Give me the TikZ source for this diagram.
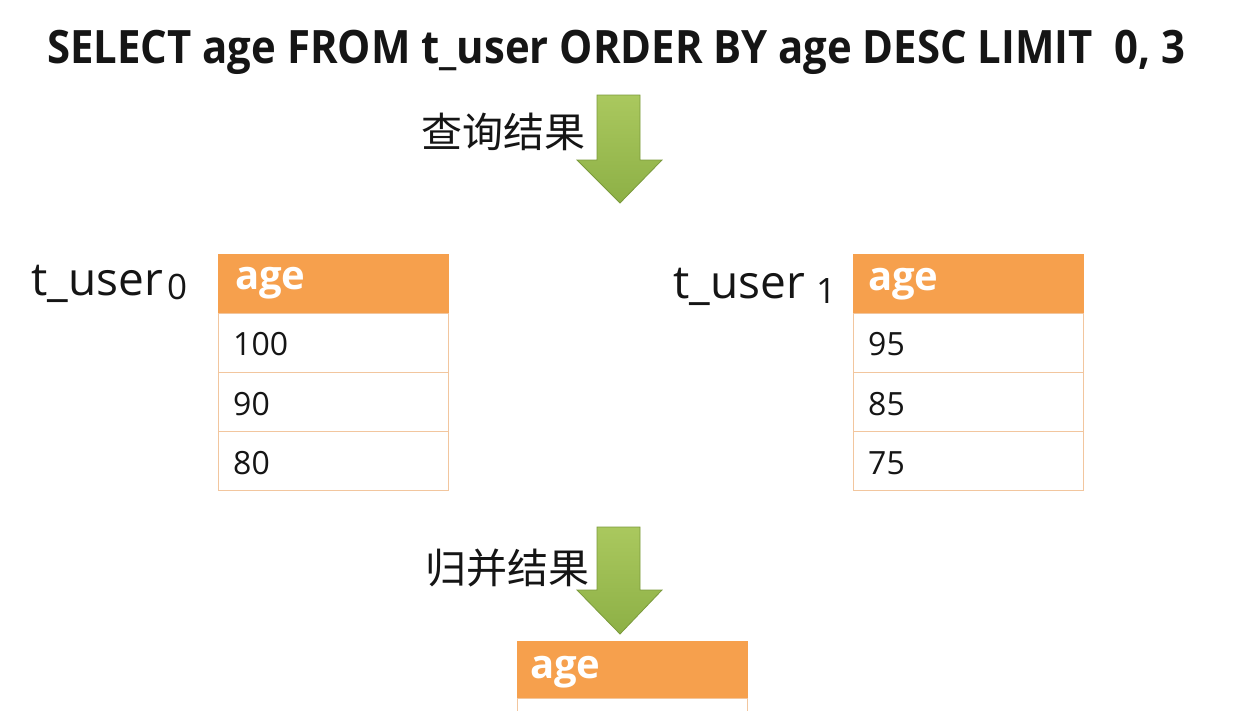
\documentclass[tikz,border=0pt]{standalone}
\usepackage{fontspec}
\setmainfont{Open Sans}
\newfontfamily\titlefont[FakeStretch=0.91]{Open Sans}
\newfontfamily\cjk{Noto Sans CJK SC}
\definecolor{hdrorange}{HTML}{F6A04D}
\definecolor{cellline}{HTML}{F2C69E}
\definecolor{grntop}{HTML}{AAC85E}
\definecolor{grnbot}{HTML}{8DB046}
\definecolor{grnline}{HTML}{7B9A3C}
\definecolor{txtblack}{HTML}{151515}
\begin{document}
\begin{tikzpicture}[x=1pt,y=-1pt,
  hdr/.style={rectangle, fill=hdrorange, draw=hdrorange, minimum width=230pt, minimum height=59pt, inner sep=0pt, anchor=north west},
  cell/.style={rectangle, fill=white, draw=cellline, line width=1.2pt, minimum width=230pt, minimum height=59pt, inner sep=0pt, anchor=north west},
  hdrtxt/.style={anchor=base west, inner sep=0pt, text=white, font=\fontsize{40}{44}\selectfont\bfseries},
  celltxt/.style={anchor=base west, inner sep=0pt, text=txtblack, font=\fontsize{32}{36}\selectfont},
  tbllabel/.style={anchor=base west, inner sep=0pt, text=txtblack, font=\fontsize{46}{50}\selectfont},
  tblsub/.style={anchor=base west, inner sep=0pt, text=txtblack, font=\fontsize{35}{38}\selectfont},
  cjklabel/.style={inner sep=0pt, text=txtblack, font=\cjk\fontsize{41}{44}\selectfont},
  blockarrow/.style={top color=grntop, bottom color=grnbot, draw=grnline, line width=0.8pt, line join=miter}
]
\useasboundingbox (0,0) rectangle (1250,710);
\fill[white] (0,0) rectangle (1250,710);
\clip (0,0) rectangle (1250,710);

% title
\node[anchor=base west, inner sep=0pt, text=txtblack, font=\titlefont\fontsize{46}{50}\selectfont\bfseries] (title) at (47,63) {SELECT age FROM t\_user ORDER BY age DESC LIMIT\ \ 0, 3};

% top arrow
\shade[blockarrow] (597,95) -- (640,95) -- (640,160) -- (662,160) -- (620,203) -- (577,160) -- (597,160) -- cycle;
\node[cjklabel] (q) at (503,132) {查询结果};

% left table
\node[tbllabel] (l0) at (31,295) {t\_user};
\node[tblsub] (l0s) at ([xshift=4pt,yshift=-4pt]l0.base east) {0};
\node[hdr] (lh) at (218,254) {};
\node[cell] (l1) at (218,313) {};
\node[cell] (l2) at (218,372) {};
\node[cell] (l3) at (218,431) {};
\node[hdrtxt] (lht) at (235,289) {age};
\node[celltxt] (l1t) at (233,355) {100};
\node[celltxt] (l2t) at (233,415) {90};
\node[celltxt] (l3t) at (233,474) {80};

% right table
\node[tbllabel] (r0) at (673,298) {t\_user};
\node[tblsub] (r0s) at ([xshift=11pt,yshift=-5pt]r0.base east) {1};
\node[hdr] (rh) at (853,254) {};
\node[cell] (r1) at (853,313) {};
\node[cell] (r2) at (853,372) {};
\node[cell] (r3) at (853,431) {};
\node[hdrtxt] (rht) at (868,290) {age};
\node[celltxt] (r1t) at (868,355) {95};
\node[celltxt] (r2t) at (868,415) {85};
\node[celltxt] (r3t) at (868,474) {75};

% bottom arrow
\shade[blockarrow] (597,527) -- (640,527) -- (640,590) -- (662,590) -- (620,634) -- (577,590) -- (597,590) -- cycle;
\node[cjklabel] (m) at (507,568) {归并结果};

% merged table
\node[hdr, minimum height=57pt] (bh) at (517,641) {};
\node[cell] (b1) at (517,698) {};
\node[hdrtxt] (bht) at (530,678) {age};
\end{tikzpicture}
\end{document}
